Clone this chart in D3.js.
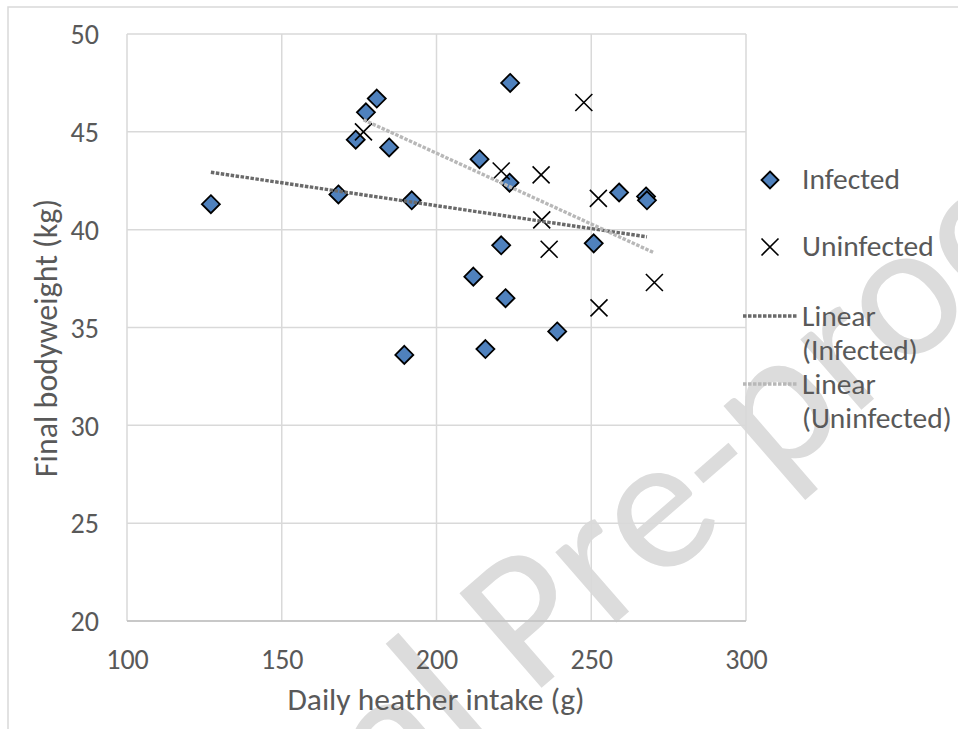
<!DOCTYPE html>
<html><head><meta charset="utf-8">
<script src="https://cdn.jsdelivr.net/npm/d3@7"></script>
<style>
html,body{margin:0;padding:0;background:#fff;}
svg{display:block;}
text{font-family:Carlito,Calibri,Lato,sans-serif;}
</style></head>
<body>
<svg id="chart" width="958" height="729"></svg>
<script>
// ---- data ----
const infectedX = [127.1,168.3,173.9,177.2,180.7,184.7,189.6,192.0,211.9,213.9,215.8,220.9,222.3,223.6,223.8,239.0,250.8,259.0,267.7,268.0];
const infectedY = [41.3,41.8,44.6,46.0,46.7,44.2,33.6,41.5,37.6,43.6,33.9,39.2,36.5,42.4,47.5,34.8,39.3,41.9,41.7,41.5];
const uninfectedX = [176.4,247.6,220.9,233.8,252.3,234.0,236.4,270.4,252.5];
const uninfectedY = [45.0,46.5,43.0,42.8,41.6,40.5,39.0,37.3,36.0];
const xTicks = [100,150,200,250,300];
const yTicks = [20,25,30,35,40,45,50];
const seriesNames = ["Infected","Uninfected"];
const trendNames = [["Linear","(Infected)"],["Linear","(Uninfected)"]];
const xTitle = "Daily heather intake (g)";
const yTitle = "Final bodyweight (kg)";
const watermark = "Journal Pre-proof";

(function(){
const svg = d3.select("#chart");
const W = 958, H = 729;
const pL = 127, pR = 746, pT = 34, pB = 621;
const x = d3.scaleLinear().domain([100,300]).range([pL,pR]);
const y = d3.scaleLinear().domain([20,50]).range([pB,pT]);

const textCol = "#595959";
const gridCol = "#d9d9d9";
const FONT = "Carlito,Calibri,Lato,sans-serif";

svg.append("rect").attr("width",W).attr("height",H).attr("fill","#fff");
// watermark
svg.append("text").text(watermark)
  .attr("transform","translate(538,602) rotate(-41)")
  .attr("text-anchor","middle").attr("dominant-baseline","central")
  .attr("font-size",195).attr("fill","#dcdcdc");

// outer frame
svg.append("rect").attr("x",8).attr("y",7).attr("width",W+20).attr("height",H+20)
  .attr("fill","none").attr("stroke",gridCol).attr("stroke-width",1.5);

// grid
const g = svg.append("g");
g.selectAll("line.vg").data(xTicks).join("line").attr("class","vg")
  .attr("x1",d=>x(d)).attr("x2",d=>x(d)).attr("y1",pT).attr("y2",pB)
  .attr("stroke",gridCol).attr("stroke-width",1.5);
g.selectAll("line.hg").data(yTicks).join("line").attr("class","hg")
  .attr("x1",pL).attr("x2",pR).attr("y1",d=>y(d)).attr("y2",d=>y(d))
  .attr("stroke",gridCol).attr("stroke-width",1.5);
g.append("line").attr("x1",pL).attr("x2",pR).attr("y1",pB).attr("y2",pB)
  .attr("stroke","#bfbfbf").attr("stroke-width",1.5);

// axes (labels only)
const xAxis = d3.axisBottom(x).tickValues(xTicks).tickSize(0).tickPadding(0);
const gx = svg.append("g").attr("transform",`translate(0,${pB})`).call(xAxis);
gx.select(".domain").remove();
gx.selectAll("text").attr("y",48).attr("dy",null).attr("font-size",28).attr("fill",textCol)
  .attr("font-family",FONT);
const yAxis = d3.axisLeft(y).tickValues(yTicks).tickSize(0).tickPadding(0);
const gy = svg.append("g").attr("transform",`translate(${pL},0)`).call(yAxis);
gy.select(".domain").remove();
gy.selectAll("text").attr("x",-28).attr("dy","0.35em").attr("font-size",28).attr("fill",textCol)
  .attr("font-family",FONT);

// axis titles
svg.append("text").text(xTitle).attr("x",436).attr("y",710)
  .attr("text-anchor","middle").attr("font-size",31.5).attr("fill",textCol);
svg.append("text").text(yTitle).attr("transform",`translate(57,338) rotate(-90)`)
  .attr("text-anchor","middle").attr("font-size",32).attr("fill",textCol);

// regression
function fit(xs, ys){
  const mx = d3.mean(xs), my = d3.mean(ys);
  let sxy=0, sxx=0;
  xs.forEach((v,i)=>{ sxy += (v-mx)*(ys[i]-my); sxx += (v-mx)*(v-mx); });
  const b = sxy/sxx, a = my - b*mx;
  const [x0,x1] = d3.extent(xs);
  return [[x0,a+b*x0],[x1,a+b*x1]];
}
const line = d3.line().x(d=>x(d[0])).y(d=>y(d[1]));
const trendCols = ["#6a6a6a","#b8b8b8"];
const fits = [fit(infectedX,infectedY), fit(uninfectedX,uninfectedY)];

const diamond = (cx,cy,r)=>`M${cx},${cy-r}L${cx+r},${cy}L${cx},${cy+r}L${cx-r},${cy}Z`;
const cross = (cx,cy,r)=>`M${cx-r},${cy-r}L${cx+r},${cy+r}M${cx-r},${cy+r}L${cx+r},${cy-r}`;

const infData = infectedX.map((v,i)=>[v,infectedY[i]]);
const uninfData = uninfectedX.map((v,i)=>[v,uninfectedY[i]]);

svg.append("g").selectAll("path").data(infData).join("path")
  .attr("d",d=>diamond(x(d[0]),y(d[1]),9))
  .attr("fill","#4f81bd").attr("stroke","#000").attr("stroke-width",1.8);
svg.append("g").selectAll("path").data(uninfData).join("path")
  .attr("d",d=>cross(x(d[0]),y(d[1]),8.5))
  .attr("fill","none").attr("stroke","#000").attr("stroke-width",1.6);

fits.forEach((f,i)=>{
  svg.append("path").attr("d",line(f)).attr("fill","none")
    .attr("stroke",trendCols[i]).attr("stroke-width",3.4)
    .attr("stroke-dasharray","3.5,1.5");
});

// legend
const lg = svg.append("g");
const LF = 29.5;
lg.append("path").attr("d",diamond(770,180,8.5)).attr("fill","#4f81bd").attr("stroke","#000").attr("stroke-width",1.8);
lg.append("text").text(seriesNames[0]).attr("x",802).attr("y",189).attr("font-size",LF).attr("fill",textCol);
lg.append("path").attr("d",cross(770,247,8.5)).attr("fill","none").attr("stroke","#000").attr("stroke-width",1.6);
lg.append("text").text(seriesNames[1]).attr("x",802).attr("y",256).attr("font-size",LF).attr("fill",textCol);
const lys = [316,384];
trendNames.forEach((t,i)=>{
  lg.append("line").attr("x1",743).attr("x2",797).attr("y1",lys[i]).attr("y2",lys[i])
    .attr("stroke",trendCols[i]).attr("stroke-width",3.4).attr("stroke-dasharray","3.5,1.5");
  lg.append("text").text(t[0]).attr("x",802).attr("y",lys[i]+10).attr("font-size",LF).attr("fill",textCol);
  lg.append("text").text(t[1]).attr("x",802).attr("y",lys[i]+44).attr("font-size",LF).attr("fill",textCol);
});
})();
</script>
</body></html>
